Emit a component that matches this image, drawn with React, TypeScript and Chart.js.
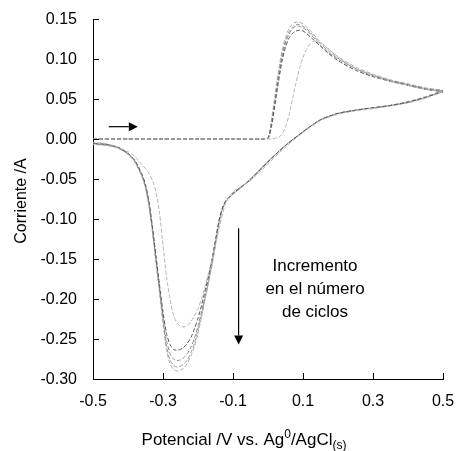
import React, { useEffect, useRef } from 'react';
import { Chart, registerables } from 'chart.js';

Chart.register(...registerables);

// Potential sweep grids (V vs. Ag0/AgCl(s))
const potentialForward = [
  -0.5, -0.4, -0.3, -0.2, -0.1, -0.02, 0.0, 0.01, 0.02, 0.03, 0.04, 0.05, 0.06, 0.07, 0.08,
  0.09, 0.1, 0.11, 0.12, 0.13, 0.14, 0.15, 0.17, 0.2, 0.25, 0.3, 0.35, 0.4, 0.45, 0.5,
];
const potentialReverse = [
  0.5, 0.45, 0.4, 0.35, 0.3, 0.25, 0.2, 0.15, 0.1, 0.05, 0.0, -0.05, -0.08, -0.1, -0.12,
  -0.13, -0.14, -0.15, -0.16, -0.17, -0.18, -0.19, -0.2, -0.21, -0.22, -0.23, -0.24, -0.25,
  -0.26, -0.27, -0.28, -0.29, -0.3, -0.31, -0.32, -0.33, -0.34, -0.35, -0.36, -0.38, -0.4,
  -0.43, -0.46, -0.5,
];

// Current (A) per cycle, anodic sweep
const cycle1Forward = [
  0, 0, 0, 0, 0, 0, 0.0, 0.0, 0.001, 0.002, 0.006, 0.015, 0.03, 0.05, 0.07,
  0.088, 0.102, 0.112, 0.119, 0.122, 0.122, 0.12, 0.114, 0.102, 0.088, 0.079, 0.072, 0.067, 0.062, 0.059,
];
const cycle2Forward = [
  0, 0, 0, 0, 0, 0, 0.001, 0.016, 0.043, 0.072, 0.097, 0.115, 0.126, 0.132, 0.135,
  0.136, 0.135, 0.132, 0.128, 0.124, 0.12, 0.116, 0.108, 0.098, 0.086, 0.078, 0.072, 0.067, 0.062, 0.059,
];
const cycle3Forward = [
  0, 0, 0, 0, 0, 0, 0.001, 0.019, 0.047, 0.077, 0.102, 0.12, 0.131, 0.138, 0.141,
  0.141, 0.139, 0.136, 0.132, 0.127, 0.122, 0.117, 0.109, 0.1, 0.088, 0.079, 0.073, 0.068, 0.063, 0.06,
];
const cycle4Forward = [
  0, 0, 0, 0, 0, 0, 0.001, 0.021, 0.05, 0.08, 0.105, 0.123, 0.134, 0.14, 0.143,
  0.143, 0.141, 0.138, 0.134, 0.129, 0.124, 0.119, 0.111, 0.101, 0.088, 0.08, 0.073, 0.068, 0.063, 0.06,
];
const cycle5Forward = [
  0, 0, 0, 0, 0, 0, 0.002, 0.025, 0.055, 0.085, 0.11, 0.127, 0.138, 0.144, 0.146,
  0.146, 0.144, 0.14, 0.136, 0.131, 0.126, 0.121, 0.113, 0.103, 0.09, 0.081, 0.074, 0.069, 0.064, 0.061,
];

// Current (A) per cycle, cathodic sweep
const cycle1Reverse = [
  0.059, 0.051, 0.045, 0.041, 0.038, 0.035, 0.031, 0.023, 0.008, -0.01,
  -0.031, -0.052, -0.06, -0.066, -0.079,
  -0.094, -0.112, -0.132, -0.15, -0.168,
  -0.185, -0.2, -0.212, -0.221, -0.228,
  -0.233, -0.235, -0.234, -0.23, -0.22,
  -0.2, -0.172, -0.133, -0.092, -0.066,
  -0.052, -0.043, -0.037, -0.032, -0.022,
  -0.016, -0.01, -0.006, -0.004,
];
const cycle2Reverse = [
  0.059, 0.052, 0.046, 0.042, 0.039, 0.036, 0.032, 0.024, 0.009, -0.008,
  -0.029, -0.051, -0.061, -0.068, -0.077,
  -0.086, -0.102, -0.126, -0.15, -0.171,
  -0.19, -0.208, -0.224, -0.237, -0.248,
  -0.255, -0.26, -0.263, -0.264, -0.263,
  -0.257, -0.243, -0.216, -0.182, -0.146,
  -0.11, -0.078, -0.057, -0.044, -0.027,
  -0.018, -0.01, -0.007, -0.005,
];
const cycle3Reverse = [
  0.06, 0.052, 0.046, 0.042, 0.039, 0.036, 0.032, 0.024, 0.009, -0.008,
  -0.028, -0.05, -0.061, -0.068, -0.077,
  -0.086, -0.103, -0.128, -0.153, -0.175,
  -0.196, -0.216, -0.234, -0.249, -0.26,
  -0.268, -0.273, -0.276, -0.277, -0.275,
  -0.268, -0.252, -0.222, -0.186, -0.15,
  -0.113, -0.081, -0.059, -0.046, -0.028,
  -0.018, -0.011, -0.007, -0.006,
];
const cycle4Reverse = [
  0.06, 0.052, 0.046, 0.042, 0.039, 0.036, 0.032, 0.024, 0.009, -0.008,
  -0.028, -0.05, -0.062, -0.069, -0.078,
  -0.087, -0.105, -0.131, -0.156, -0.178,
  -0.199, -0.22, -0.239, -0.255, -0.267,
  -0.276, -0.281, -0.284, -0.285, -0.283,
  -0.276, -0.259, -0.227, -0.19, -0.153,
  -0.116, -0.083, -0.061, -0.047, -0.029,
  -0.019, -0.011, -0.008, -0.006,
];
const cycle5Reverse = [
  0.061, 0.053, 0.047, 0.042, 0.039, 0.036, 0.032, 0.024, 0.009, -0.008,
  -0.028, -0.05, -0.062, -0.069, -0.078,
  -0.088, -0.106, -0.133, -0.158, -0.18,
  -0.201, -0.223, -0.243, -0.259, -0.271,
  -0.28, -0.286, -0.289, -0.29, -0.288,
  -0.281, -0.263, -0.23, -0.192, -0.155,
  -0.117, -0.084, -0.061, -0.047, -0.029,
  -0.019, -0.011, -0.008, -0.007,
];

const cycleColors = ['#b4b4b4', '#555555', '#8c8c8c', '#9c9c9c', '#ababab'];

// Axis ticks
const xTickValues = [-0.5, -0.3, -0.1, 0.1, 0.3, 0.5];
const yTickValues = [-0.3, -0.25, -0.2, -0.15, -0.1, -0.05, 0.0, 0.05, 0.1, 0.15];

// Text
const yAxisTitle = 'Corriente /A';
const annotationLines = ['Incremento', 'en el número', 'de ciclos'];

const FONT = '"Liberation Sans", Arial, Helvetica, sans-serif';

const toPoints = (fwd: number[], rev: number[]) => [
  ...potentialForward.map((x, i) => ({ x, y: fwd[i] })),
  ...potentialReverse.map((x, i) => ({ x, y: rev[i] })),
];

const cycles = [
  toPoints(cycle1Forward, cycle1Reverse),
  toPoints(cycle2Forward, cycle2Reverse),
  toPoints(cycle3Forward, cycle3Reverse),
  toPoints(cycle4Forward, cycle4Reverse),
  toPoints(cycle5Forward, cycle5Reverse),
];

function drawArrow(ctx: CanvasRenderingContext2D, x1: number, y1: number, x2: number, y2: number) {
  const ang = Math.atan2(y2 - y1, x2 - x1);
  const headLen = 9;
  const headHalf = 4.5;
  const bx = x2 - headLen * Math.cos(ang);
  const by = y2 - headLen * Math.sin(ang);
  ctx.beginPath();
  ctx.moveTo(x1, y1);
  ctx.lineTo(bx, by);
  ctx.stroke();
  ctx.beginPath();
  ctx.moveTo(x2, y2);
  ctx.lineTo(bx + headHalf * Math.sin(ang), by - headHalf * Math.cos(ang));
  ctx.lineTo(bx - headHalf * Math.sin(ang), by + headHalf * Math.cos(ang));
  ctx.closePath();
  ctx.fill();
}

const decorations = {
  id: 'cvDecorations',
  afterDraw(chart: any) {
    const { ctx, chartArea, scales } = chart;
    const xs = scales.x;
    const ys = scales.y;
    ctx.save();
    ctx.strokeStyle = '#000';
    ctx.fillStyle = '#000';
    ctx.lineWidth = 1;

    // inward tick marks
    ctx.beginPath();
    for (const v of yTickValues) {
      const y = Math.round(ys.getPixelForValue(v)) + 0.5;
      ctx.moveTo(chartArea.left, y);
      ctx.lineTo(chartArea.left + 6, y);
    }
    for (const v of xTickValues) {
      const x = Math.round(xs.getPixelForValue(v)) + 0.5;
      ctx.moveTo(x, chartArea.bottom);
      ctx.lineTo(x, chartArea.bottom - 6);
    }
    ctx.stroke();

    // tick labels
    ctx.font = `16px ${FONT}`;
    ctx.textBaseline = 'middle';
    ctx.textAlign = 'right';
    for (const v of yTickValues) {
      ctx.fillText(v.toFixed(2), chartArea.left - 16, ys.getPixelForValue(v) + 1);
    }
    ctx.textAlign = 'center';
    for (const v of xTickValues) {
      ctx.fillText(v.toFixed(1), xs.getPixelForValue(v), chartArea.bottom + 23);
    }

    // sweep direction and cycle-number arrows
    ctx.lineWidth = 1.2;
    drawArrow(ctx, xs.getPixelForValue(-0.455), ys.getPixelForValue(0.0154), xs.getPixelForValue(-0.372), ys.getPixelForValue(0.0154));
    drawArrow(ctx, xs.getPixelForValue(-0.084), ys.getPixelForValue(-0.1115), xs.getPixelForValue(-0.084), ys.getPixelForValue(-0.257));

    // annotation
    ctx.font = `17px ${FONT}`;
    ctx.textAlign = 'center';
    ctx.textBaseline = 'middle';
    const ax = chartArea.left + 222;
    annotationLines.forEach((line, i) => {
      ctx.fillText(line, ax, chartArea.top + 247 + i * 23);
    });

    // y title
    ctx.save();
    ctx.translate(22, (chartArea.top + chartArea.bottom) / 2 + 2);
    ctx.rotate(-Math.PI / 2);
    ctx.font = `16px ${FONT}`;
    ctx.textAlign = 'center';
    ctx.textBaseline = 'middle';
    ctx.fillText(yAxisTitle, 0, 0);
    ctx.restore();

    // x title with superscript and subscript
    const big = `17px ${FONT}`;
    const small = `12px ${FONT}`;
    const parts = [
      { t: 'Potencial /V vs. Ag', f: big, dy: 0 },
      { t: '0', f: small, dy: -7 },
      { t: '/AgCl', f: big, dy: 0 },
      { t: '(s)', f: small, dy: 4 },
    ];
    let total = 0;
    for (const p of parts) {
      ctx.font = p.f;
      total += ctx.measureText(p.t).width;
    }
    let cx = chartArea.left + 151 - total / 2;
    const baseY = chartArea.bottom + 66;
    ctx.textAlign = 'left';
    ctx.textBaseline = 'alphabetic';
    for (const p of parts) {
      ctx.font = p.f;
      ctx.fillText(p.t, cx, baseY + p.dy);
      cx += ctx.measureText(p.t).width;
    }
    ctx.restore();
  },
};

export default function App() {
  const canvasRef = useRef<HTMLCanvasElement | null>(null);

  useEffect(() => {
    if (!canvasRef.current) return;
    const chart = new Chart(canvasRef.current, {
      type: 'scatter',
      data: {
        datasets: cycles.map((pts, i) => ({
          label: `Ciclo ${i + 1}`,
          data: pts,
          showLine: true,
          borderColor: cycleColors[i],
          borderWidth: 1,
          borderDash: [4, 2],
          pointRadius: 0,
          tension: 0.25,
          fill: false,
        })),
      },
      options: {
        responsive: false,
        animation: false,
        devicePixelRatio: 1,
        layout: { padding: { top: 19, right: 13, bottom: 0, left: 0 } },
        plugins: {
          legend: { display: false },
          tooltip: { enabled: false },
        },
        scales: {
          x: {
            type: 'linear',
            min: -0.5,
            max: 0.5,
            afterFit: (s: any) => {
              s.height = 72;
            },
            grid: { display: false, drawTicks: false },
            border: { display: true, color: '#000', width: 1 },
            ticks: { display: false },
          },
          y: {
            type: 'linear',
            min: -0.3,
            max: 0.15,
            afterFit: (s: any) => {
              s.width = 93;
            },
            grid: { display: false, drawTicks: false },
            border: { display: true, color: '#000', width: 1 },
            ticks: { display: false },
          },
        },
      },
      plugins: [decorations],
    });
    return () => chart.destroy();
  }, []);

  return (
    <div style={{ position: 'absolute', left: 0, top: 0, width: 456, height: 451, background: '#fff' }}>
      <canvas ref={canvasRef} width={456} height={451} style={{ display: 'block' }} />
    </div>
  );
}
